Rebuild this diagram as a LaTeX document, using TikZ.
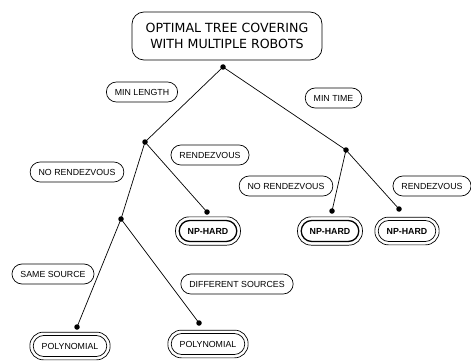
\documentclass[tikz,border=0pt]{standalone}
\usepackage{fontspec}
\usetikzlibrary{fit}
\newfontfamily\labfont{Liberation Sans}
\newfontfamily\ttlfont{DejaVu Sans}
\begin{document}
\begin{tikzpicture}[x=1pt,y=-1pt,
  pill/.style={draw, line width=0.7pt, rectangle, rounded corners=10pt, minimum height=20pt,
    inner xsep=8.5pt, inner ysep=0pt, font=\labfont\fontsize{8.8}{10}\selectfont},
  respill/.style={pill, font=\labfont\bfseries\fontsize{8.8}{10}\selectfont, minimum height=21pt, rounded corners=10.5pt},
  outerpill/.style={draw, line width=0.7pt, rectangle, rounded corners=13.5pt, inner sep=3pt},
  dot/.style={circle, fill=black, inner sep=0pt, minimum size=5.5pt},
  edge/.style={line width=0.7pt}]
\useasboundingbox (0,0) rectangle (471,361);
% root
\node[draw, line width=0.7pt, rectangle, rounded corners=12pt, minimum width=190pt, minimum height=48pt,
  align=center, font=\ttlfont\fontsize{12.6}{15.5}\selectfont] (root) at (227,36)
  {OPTIMAL TREE COVERING\\WITH MULTIPLE ROBOTS};
% dots
\node[dot] (d0) at (223,67) {};
\node[dot] (d1) at (145,142) {};
\node[dot] (d2) at (346,150) {};
\node[dot] (d3) at (121,219) {};
\node[dot] (d4) at (207,212) {};
\node[dot] (d5) at (332,211) {};
\node[dot] (d6) at (399,209) {};
\node[dot] (d7) at (77,327) {};
\node[dot] (d8) at (199,323) {};
% edges
\draw[edge] (d0.center) -- (d1.center);
\draw[edge] (d0.center) -- (d2.center);
\draw[edge] (d1.center) -- (d3.center);
\draw[edge] (d1.center) -- (d4.center);
\draw[edge] (d2.center) -- (d5.center);
\draw[edge] (d2.center) -- (d6.center);
\draw[edge] (d3.center) -- (d7.center);
\draw[edge] (d3.center) -- (d8.center);
% edge labels
\node[pill] (l1) at (142,92) {MIN LENGTH};
\node[pill] (l2) at (333.5,98) {MIN TIME};
\node[pill] (l3) at (77,172) {NO RENDEZVOUS};
\node[pill] (l4) at (210,155) {RENDEZVOUS};
\node[pill] (l5) at (286,186) {NO RENDEZVOUS};
\node[pill] (l6) at (432,186) {RENDEZVOUS};
\node[pill] (l7) at (53,274) {SAME SOURCE};
\node[pill] (l8) at (237,284) {DIFFERENT SOURCES};
% results
\node[respill, line width=1.3pt] (r1) at (208,231) {NP-HARD};
\node[outerpill, fit=(r1)] (r1o) {};
\node[respill, line width=1.3pt] (r2) at (330,231) {NP-HARD};
\node[outerpill, fit=(r2)] (r2o) {};
\node[respill] (r3) at (407,231) {NP-HARD};
\node[outerpill, fit=(r3)] (r3o) {};
\node[respill, font=\labfont\fontsize{8.8}{10}\selectfont] (r4) at (70,346) {POLYNOMIAL};
\node[outerpill, fit=(r4)] (r4o) {};
\node[respill, font=\labfont\fontsize{8.8}{10}\selectfont] (r5) at (208,344) {POLYNOMIAL};
\node[outerpill, fit=(r5)] (r5o) {};
\end{tikzpicture}
\end{document}
